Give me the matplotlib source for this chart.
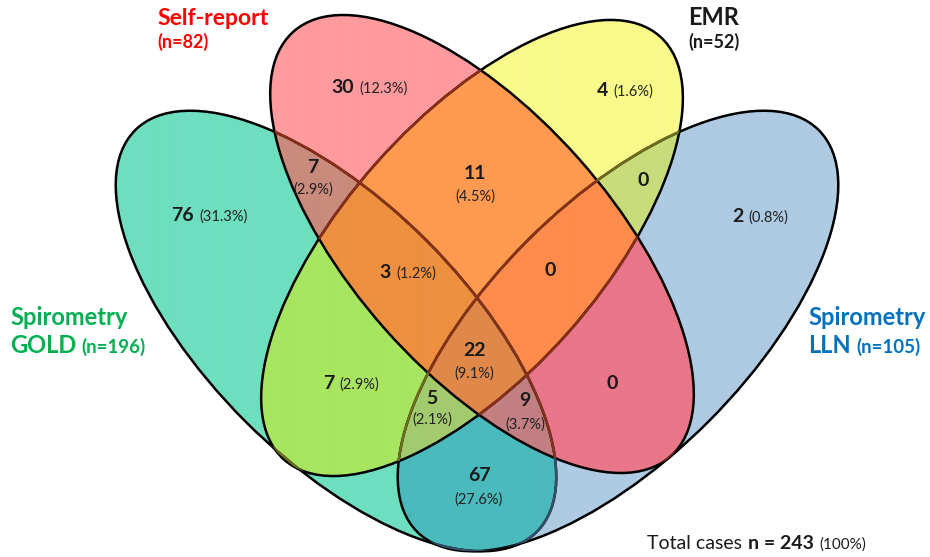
import numpy as np
import matplotlib.pyplot as plt
from matplotlib.patches import Ellipse
from matplotlib.colors import to_rgba

plt.rcParams['font.family'] = ['Lato', 'DejaVu Sans']

# sets, in membership-string order: GOLD, Self-report, EMR, LLN
set_names = ['Spirometry GOLD', 'Self-report', 'EMR', 'Spirometry LLN']
set_sizes = [196, 82, 52, 105]
total_cases = 243

# regions: membership string -> count / percent as printed
region_sets = ['1000', '0100', '0010', '0001', '1100', '0011', '0110', '1110',
               '0111', '1111', '1010', '0101', '1011', '1101', '1001']
region_counts = [76, 30, 4, 2, 7, 0, 11, 3, 0, 22, 7, 0, 5, 9, 67]
region_pcts = ['31.3%', '12.3%', '1.6%', '0.8%', '2.9%', '', '4.5%', '1.2%',
               '', '9.1%', '2.9%', '', '2.1%', '3.7%', '27.6%']

# ellipse geometry (pixel coords, y down)
centers = [(336, 331), (482, 244), (472, 248), (618, 331)]
semi_a = [284, 284, 283, 284]
semi_b = [128, 129, 128, 128]
angles = [45, 48.4, -48.4, -45]

region_colors = {
    '1000': '#6EDFBE', '0100': '#FF9A9E', '0010': '#F8FA8A', '0001': '#AECBE3',
    '1100': '#C98B7C', '0011': '#C8DC7A', '0110': '#FF9A50', '1110': '#EE9040',
    '0111': '#FF8C4C', '1111': '#E0884A', '1010': '#A8E660', '0101': '#E97689',
    '1011': '#A3CB6E', '1101': '#C28082', '1001': '#4BBABD',
}
# outline colour of earlier ellipses seen through each later fill
tints = ['#1E5A48', '#8B2E18', '#6E6E1E', '#34506A']
draw_order = [0, 3, 2, 1]

# label layout: ('inline', x_split, baseline) / ('stack', x, base1, base2)
label_layout = [
    ('inline', 196, 221), ('inline', 356, 93), ('inline', 610, 96),
    ('inline', 745, 222), ('stack', 313, 173, 194), ('zero', 643, 186),
    ('stack', 475, 179, 201), ('inline', 393, 278), ('zero', 550, 276),
    ('stack', 474, 356, 378), ('inline', 336, 389), ('zero', 612, 389),
    ('stack', 432, 404, 424), ('stack', 525, 406, 429), ('stack', 479, 481, 504),
]

fig = plt.figure(figsize=(9.3, 5.57), dpi=100)
ax = fig.add_axes([0, 0, 1, 1])

# region fills
xs = np.linspace(0, 930, 2790)
ys = np.linspace(0, 557, 1671)
X, Y = np.meshgrid(xs, ys)
code = np.zeros(X.shape, dtype=int)
for k in range(4):
    cx, cy = centers[k]
    t = np.deg2rad(angles[k])
    dx, dy = X - cx, Y - cy
    u = dx * np.cos(t) + dy * np.sin(t)
    v = -dx * np.sin(t) + dy * np.cos(t)
    inside = (u / semi_a[k]) ** 2 + (v / semi_b[k]) ** 2 <= 1
    code += inside.astype(int) * (1 << (3 - k))

img = np.zeros(X.shape + (4,))
for key, col in region_colors.items():
    img[code == int(key, 2)] = to_rgba(col)
ax.imshow(img, extent=(0, 930, 557, 0), interpolation='antialiased', zorder=1)

# outlines
def make_ellipse(k, **kw):
    return Ellipse(centers[k], 2 * semi_a[k], 2 * semi_b[k], angle=angles[k], **kw)

for n, i in enumerate(draw_order):
    ax.add_patch(make_ellipse(i, fill=False, ec='black', lw=1.8, zorder=3))
    for j in draw_order[n + 1:]:
        clip = make_ellipse(j, transform=ax.transData)
        seg = make_ellipse(i, fill=False, ec=tints[j], lw=1.8, zorder=4)
        ax.add_patch(seg)
        seg.set_clip_path(clip)

# region labels
num_kw = dict(fontsize=14, fontweight='bold', color='#1a1a1a', va='baseline', zorder=5)
pct_kw = dict(fontsize=10.5, color='#222222', va='baseline', zorder=5)
for cnt, pct, lay in zip(region_counts, region_pcts, label_layout):
    if lay[0] == 'inline':
        _, x, y = lay
        ax.text(x - 2, y, str(cnt), ha='right', **num_kw)
        ax.text(x + 3, y, f'({pct})', ha='left', **pct_kw)
    elif lay[0] == 'stack':
        _, x, y1, y2 = lay
        ax.text(x, y1, str(cnt), ha='center', **num_kw)
        ax.text(x, y2, f'({pct})', ha='center', **pct_kw)
    else:
        _, x, y = lay
        ax.text(x, y, str(cnt), ha='center', **num_kw)


def after(prev, s, y, gap=4, **kw):
    # put s right after the previous text on the same baseline
    return ax.annotate(s, xy=(1, y), xycoords=(prev, 'data'), xytext=(gap, 0),
                       textcoords='offset points', va='baseline', ha='left', **kw)


# set titles
ax.text(157, 25, set_names[1], color='#FF0000', fontsize=16.5, fontweight='bold', va='baseline')
ax.text(157, 48, f'(n={set_sizes[1]})', color='#FF0000', fontsize=13, fontweight='bold', va='baseline')

ax.text(688, 25, set_names[2], color='#1a1a1a', fontsize=17, fontweight='bold', va='baseline')
ax.text(688, 48, f'(n={set_sizes[2]})', color='#1a1a1a', fontsize=13, fontweight='bold', va='baseline')

gold_top, gold_bot = set_names[0].split(' ')
ax.text(10, 325, gold_top, color='#00B050', fontsize=17, fontweight='bold', va='baseline')
t = ax.text(10, 353, gold_bot, color='#00B050', fontsize=17, fontweight='bold', va='baseline')
after(t, f'(n={set_sizes[0]})', 353, color='#00B050', fontsize=13.5, fontweight='bold')

lln_top, lln_bot = set_names[3].split(' ')
ax.text(808, 325, lln_top, color='#0070C0', fontsize=17, fontweight='bold', va='baseline')
t = ax.text(808, 353, lln_bot, color='#0070C0', fontsize=17, fontweight='bold', va='baseline')
after(t, f'(n={set_sizes[3]})', 353, color='#0070C0', fontsize=13.5, fontweight='bold')

# total
t = ax.text(647, 549, 'Total cases', color='#1a1a1a', fontsize=14, va='baseline')
t = after(t, f'n = {total_cases}', 549, color='#1a1a1a', fontsize=14, fontweight='bold')
after(t, '(100%)', 549, color='#1a1a1a', fontsize=11)

ax.set_xlim(0, 930)
ax.set_ylim(557, 0)
ax.axis('off')

fig.savefig('out.png', dpi=100)
